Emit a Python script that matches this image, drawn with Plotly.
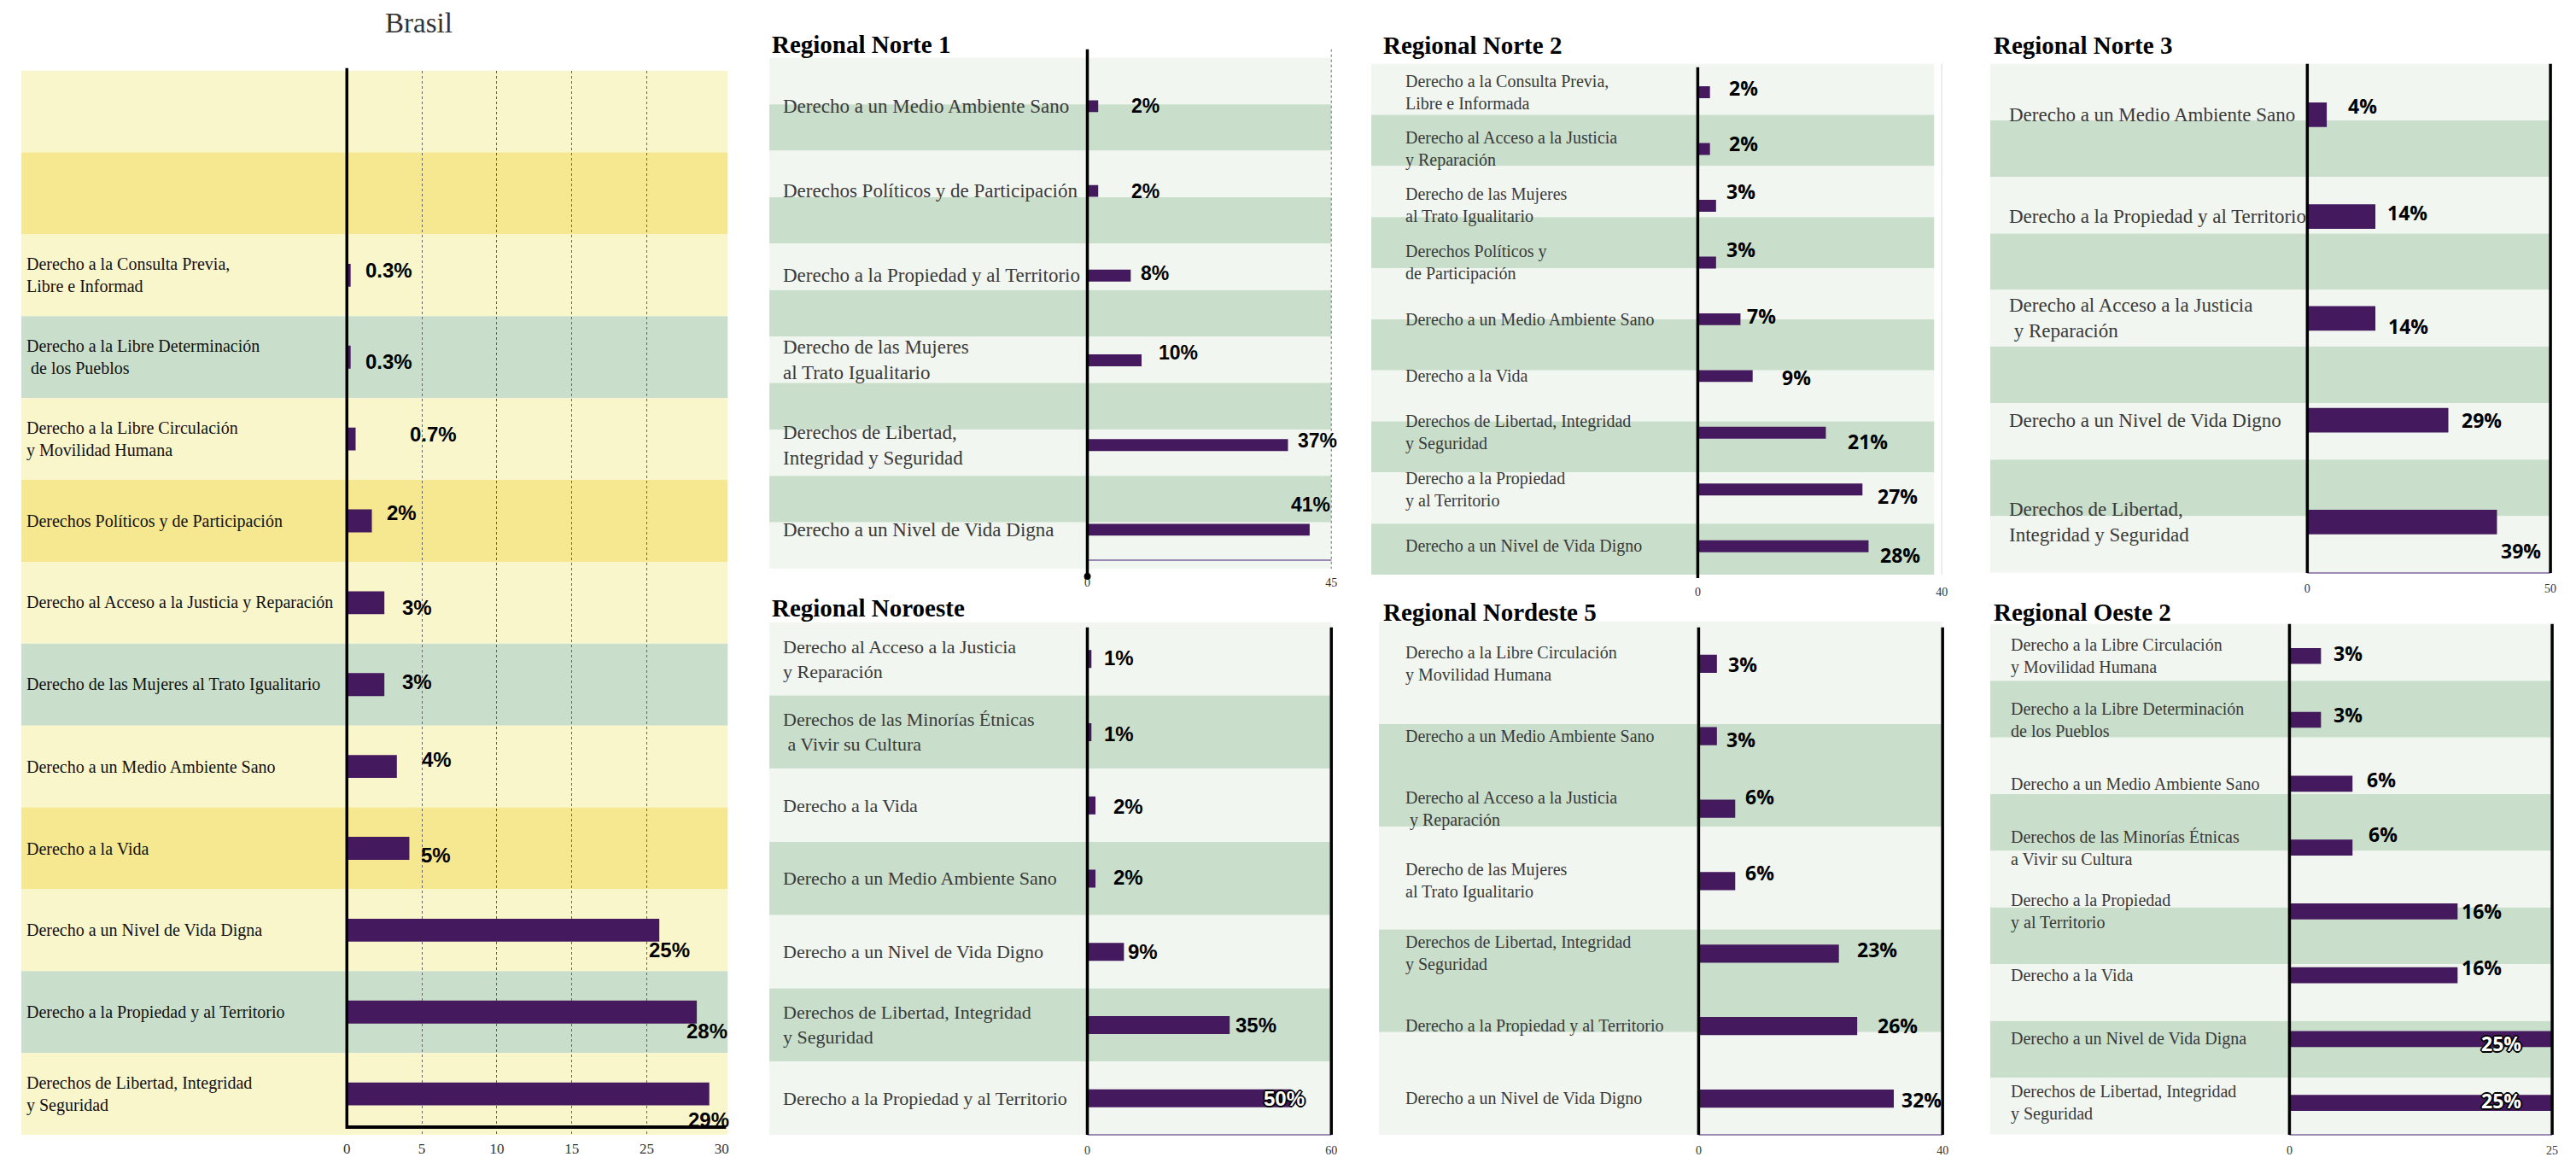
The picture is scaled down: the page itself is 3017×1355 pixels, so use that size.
import plotly.graph_objects as go

W, H = 3017, 1355

# ------------------------------------------------------------------ DATA
brasil_cats = [
    "Derecho a la Consulta Previa,<br>Libre e Informad",
    "Derecho a la Libre Determinación<br> de los Pueblos",
    "Derecho a la Libre Circulación<br>y Movilidad Humana",
    "Derechos Políticos y de Participación",
    "Derecho al Acceso a la Justicia y Reparación",
    "Derecho de las Mujeres al Trato Igualitario",
    "Derecho a un Medio Ambiente Sano",
    "Derecho a la Vida",
    "Derecho a un Nivel de Vida Digna",
    "Derecho a la Propiedad y al Territorio",
    "Derechos de Libertad, Integridad<br>y Seguridad",
]
brasil_vals = [0.3, 0.3, 0.7, 2, 3, 3, 4, 5, 25, 28, 29]
brasil_ticktext = ["0", "5", "10", "15", "25", "30"]

norte1_cats = [
    "Derecho a un Medio Ambiente Sano",
    "Derechos Políticos y de Participación",
    "Derecho a la Propiedad y al Territorio",
    "Derecho de las Mujeres<br>al Trato Igualitario",
    "Derechos de Libertad,<br>Integridad y Seguridad",
    "Derecho a un Nivel de Vida Digna",
]
norte1_vals = [2, 2, 8, 10, 37, 41]

noroeste_cats = [
    "Derecho al Acceso a la Justicia<br>y Reparación",
    "Derechos de las Minorías Étnicas<br> a Vivir su Cultura",
    "Derecho a la Vida",
    "Derecho a un Medio Ambiente Sano",
    "Derecho a un Nivel de Vida Digno",
    "Derechos de Libertad, Integridad<br>y Seguridad",
    "Derecho a la Propiedad y al Territorio",
]
noroeste_vals = [1, 1, 2, 2, 9, 35, 50]

norte2_cats = [
    "Derecho a la Consulta Previa,<br>Libre e Informada",
    "Derecho al Acceso a la Justicia<br>y Reparación",
    "Derecho de las Mujeres<br>al Trato Igualitario",
    "Derechos Políticos y<br>de Participación",
    "Derecho a un Medio Ambiente Sano",
    "Derecho a la Vida",
    "Derechos de Libertad, Integridad<br>y Seguridad",
    "Derecho a la Propiedad<br>y al Territorio",
    "Derecho a un Nivel de Vida Digno",
]
norte2_vals = [2, 2, 3, 3, 7, 9, 21, 27, 28]

norte3_cats = [
    "Derecho a un Medio Ambiente Sano",
    "Derecho a la Propiedad y al Territorio",
    "Derecho al Acceso a la Justicia<br> y Reparación",
    "Derecho a un Nivel de Vida Digno",
    "Derechos de Libertad,<br>Integridad y Seguridad",
]
norte3_vals = [4, 14, 14, 29, 39]

nordeste5_cats = [
    "Derecho a la Libre Circulación<br>y Movilidad Humana",
    "Derecho a un Medio Ambiente Sano",
    "Derecho al Acceso a la Justicia<br> y Reparación",
    "Derecho de las Mujeres<br>al Trato Igualitario",
    "Derechos de Libertad, Integridad<br>y Seguridad",
    "Derecho a la Propiedad y al Territorio",
    "Derecho a un Nivel de Vida Digno",
]
nordeste5_vals = [3, 3, 6, 6, 23, 26, 32]

oeste2_cats = [
    "Derecho a la Libre Circulación<br>y Movilidad Humana",
    "Derecho a la Libre Determinación<br>de los Pueblos",
    "Derecho a un Medio Ambiente Sano",
    "Derechos de las Minorías Étnicas<br>a Vivir su Cultura",
    "Derecho a la Propiedad<br>y al Territorio",
    "Derecho a la Vida",
    "Derecho a un Nivel de Vida Digna",
    "Derechos de Libertad, Integridad<br>y Seguridad",
]
oeste2_vals = [3, 3, 6, 6, 16, 16, 25, 25]

# ------------------------------------------------------------------ STYLE
PURPLE = "#45195e"
LY, DY, GR, LG = "#faf6cc", "#f6e890", "#c9dfcb", "#f1f6f0"
SERIF = "Liberation Serif, DejaVu Serif, serif"
ARIAL = "Liberation Sans, Arial, sans-serif"
ROUND = "Open Sans, Lato, sans-serif"
OUTLINE = ("2px 0 0 #000, -2px 0 0 #000, 0 2px 0 #000, 0 -2px 0 #000, "
           "1px 1px 0 #000, -1px -1px 0 #000, 1px -1px 0 #000, -1px 1px 0 #000")
AXW = 3.5  # axis line width

# label placement: (dx px, dy px (down +), xanchor, outlined)
R = lambda dx, dy=0: (dx, dy, "left", False)

panels = [
    dict(title="Brasil", cats=brasil_cats, vals=brasil_vals, xmax=30,
         ticks=dict(vals=[0, 6, 12, 18, 24, 30], text=brasil_ticktext, size=17),
         ax=(404, 845), ay=(83, 1333), pad=2, bw=0.28,
         band=dict(x=(21, 852), top=83, h=96.15, n=13, colors=[LY, DY, LY, GR]),
         lab=dict(x=25, size=20, color="#111"),
         ttl=dict(x=489, y=27, anchor="center", size=33, weight="normal", color="#333"),
         vfont=(ARIAL, 24), zero=(80, 1326), right=None, dot=None,
         bottom=dict(y=1324, x1=850, color="black", width=4), grid=True, tick_sd=4,
         place=[R(15, -6), R(15, 5), R(61, -6), R(15, -10), R(19, 6), R(19, -3),
                R(27, -8), R(12, 8), R(-14, 23), R(-14, 22), R(-27, 30)]),
    dict(title="Regional Norte 1", cats=norte1_cats, vals=norte1_vals, xmax=45,
         ticks=dict(vals=[0, 45], text=["0", "45"], size=14),
         ax=(1275, 1562), ay=(75, 672), pad=0, bw=0.14,
         band=dict(x=(901, 1562), top=68, h=54.55, n=11, colors=[LG, GR]),
         lab=dict(x=915, size=23, color="#3a3a3a"),
         ttl=dict(x=902, y=52, anchor="left", size=29, weight="bold", color="#000"),
         vfont=(ARIAL, 23), zero=(58, 677), right=("dot", 58, 668), dot=677,
         bottom=dict(y=658, x1=1562, color="#7d64a0", width=1.5), grid=False, tick_sd=2,
         place=[R(37), R(37), R(10, -3), R(18, -9), R(10, -5), (26, -29, "right", False)]),
    dict(title="Regional Noroeste", cats=noroeste_cats, vals=noroeste_vals, xmax=60,
         ticks=dict(vals=[0, 60], text=["0", "60"], size=14),
         ax=(1275, 1562), ay=(731, 1333), pad=0, bw=0.245,
         band=dict(x=(901, 1562), top=731, h=86, n=7, colors=[LG, GR]),
         lab=dict(x=915, size=22, color="#3a3a3a"),
         ttl=dict(x=902, y=714, anchor="left", size=29, weight="bold", color="#000"),
         vfont=(ARIAL, 24), zero=(737, 1333), right=("solid", 737, 1333), dot=None,
         bottom=dict(y=1333, x1=1562, color="#7d64a0", width=1.5), grid=False, tick_sd=8,
         place=[R(13, -1), R(13, 2), R(19, 1), R(19, -1), R(3), R(5),
                (18, 0, "right", True)]),
    dict(title="Regional Norte 2", cats=norte2_cats, vals=norte2_vals, xmax=40,
         ticks=dict(vals=[0, 40], text=["0", "40"], size=14),
         ax=(1993, 2280), ay=(75, 675), pad=0, bw=0.21,
         band=dict(x=(1609, 2271), top=75, h=60, n=10, colors=[LG, GR]),
         lab=dict(x=1647, size=20, color="#3a3a3a"),
         ttl=dict(x=1621, y=53, anchor="left", size=29, weight="bold", color="#000"),
         vfont=(ROUND, 23), zero=(79, 679), right=("faint", 75, 675), dot=None, bottom=None,
         grid=False, tick_sd=10,
         place=[R(20, -5), R(20, -6), R(10, -17), R(10, -15), R(6, -4), R(32, 2),
                R(24, 10), R(16, 8), R(12, 10)]),
    dict(title="Regional Norte 3", cats=norte3_cats, vals=norte3_vals, xmax=50,
         ticks=dict(vals=[0, 50], text=["0", "50"], size=14),
         ax=(2710, 2996), ay=(75, 673), pad=0, bw=0.24,
         band=dict(x=(2337, 2996), top=75, h=66.4, n=9, colors=[LG, GR]),
         lab=dict(x=2357, size=23, color="#3a3a3a"),
         ttl=dict(x=2339, y=53, anchor="left", size=29, weight="bold", color="#000"),
         vfont=(ROUND, 23), zero=(75, 673), right=("solid", 75, 673), dot=None,
         bottom=dict(y=673, x1=2996, color="#7d64a0", width=1.5), grid=False, tick_sd=8,
         place=[R(23, -10), R(12, -5), R(13, 9), R(14), R(3, 34)]),
    dict(title="Regional Nordeste 5", cats=nordeste5_cats, vals=nordeste5_vals, xmax=40,
         ticks=dict(vals=[0, 40], text=["0", "40"], size=14),
         ax=(1994, 2281), ay=(737, 1333), pad=0, bw=0.25,
         band=dict(x=(1618, 2280), top=730, h=120.6, n=5, colors=[LG, GR]),
         lab=dict(x=1647, size=20, color="#3a3a3a"),
         ttl=dict(x=1621, y=719, anchor="left", size=29, weight="bold", color="#000"),
         vfont=(ROUND, 23), zero=(737, 1333), right=("solid", 737, 1333), dot=None,
         bottom=dict(y=1333, x1=2281, color="#7d64a0", width=1.5), grid=False, tick_sd=8,
         place=[R(11, 1), R(9, 4), R(10, -14), R(10, -10), R(19, -5), R(22, -1), R(7, 1)]),
    dict(title="Regional Oeste 2", cats=oeste2_cats, vals=oeste2_vals, xmax=25,
         ticks=dict(vals=[0, 25], text=["0", "25"], size=14),
         ax=(2689, 2998), ay=(733, 1333), pad=0, bw=0.25,
         band=dict(x=(2337, 2998), top=733, h=66.6, n=9, colors=[LG, GR]),
         lab=dict(x=2359, size=20, color="#3a3a3a"),
         ttl=dict(x=2339, y=719, anchor="left", size=29, weight="bold", color="#000"),
         vfont=(ROUND, 23), zero=(733, 1333), right=("solid", 733, 1333), dot=None,
         bottom=dict(y=1333, x1=2998, color="#7d64a0", width=1.5), grid=False, tick_sd=8,
         place=[R(13, -3), R(13, -6), R(15, -5), R(17, -16), R(3), R(3, -9),
                (-34, 5, "right", True), (-34, -3, "right", True)]),
]


def fx(p):
    return p / W


def fy(p):
    return 1 - p / H


def pline(x0, y0, x1, y1, **line):
    return dict(type="line", xref="paper", yref="paper", x0=fx(x0), x1=fx(x1),
                y0=fy(y0), y1=fy(y1), line=line, layer="above")


fig = go.Figure()
shapes, annotations, layout_axes = [], [], {}

for n, p in enumerate(panels, start=1):
    xn = "x" if n == 1 else f"x{n}"
    yn = "y" if n == 1 else f"y{n}"
    xk = "xaxis" if n == 1 else f"xaxis{n}"
    yk = "yaxis" if n == 1 else f"yaxis{n}"
    ncat = len(p["cats"])

    fig.add_trace(go.Bar(
        x=p["vals"], y=p["cats"], orientation="h", width=p["bw"],
        marker=dict(color=PURPLE, line=dict(width=0)),
        xaxis=xn, yaxis=yn, hoverinfo="x+y", showlegend=False, cliponaxis=False,
    ))

    layout_axes[xk] = dict(
        domain=[fx(p["ax"][0]), fx(p["ax"][1])], range=[0, p["xmax"]], anchor=yn,
        tickvals=p["ticks"]["vals"], ticktext=p["ticks"]["text"], ticks="",
        tickfont=dict(family=SERIF, size=p["ticks"]["size"], color="#333"),
        ticklabelstandoff=p["tick_sd"],
        showgrid=p["grid"], gridcolor="#666", griddash="dot", gridwidth=1.2,
        zeroline=False, showline=False, fixedrange=True,
    )
    layout_axes[yk] = dict(
        domain=[fy(p["ay"][1]), fy(p["ay"][0])], anchor=xn, type="category",
        categoryorder="array", categoryarray=p["cats"],
        range=[ncat - 0.5, -0.5 - p["pad"]],
        showticklabels=False, showgrid=False, zeroline=False, showline=False,
        fixedrange=True,
    )

    # background bands
    b = p["band"]
    for k in range(b["n"]):
        y0 = b["top"] + k * b["h"]
        shapes.append(dict(type="rect", xref="paper", yref="paper", layer="below",
                           x0=fx(b["x"][0]), x1=fx(b["x"][1]),
                           y0=fy(y0 + b["h"]), y1=fy(y0),
                           fillcolor=b["colors"][k % len(b["colors"])], line=dict(width=0)))

    # axis frame lines (paper-referenced so they are not clipped by the plot area)
    x0px, x1px = p["ax"]
    if p["bottom"]:
        bt = p["bottom"]
        shapes.append(pline(x0px, bt["y"], bt["x1"], bt["y"], color=bt["color"], width=bt["width"]))
    z0, z1 = p["zero"]
    shapes.append(pline(x0px, z0, x0px, z1, color="black", width=AXW))
    if p["dot"]:
        shapes.append(dict(type="circle", xref="paper", yref="paper",
                           x0=fx(x0px - 4), x1=fx(x0px + 4), y0=fy(p["dot"] + 4), y1=fy(p["dot"] - 4),
                           fillcolor="black", line=dict(width=0), layer="above"))
    if p["right"]:
        style, r0, r1 = p["right"]
        if style == "dot":
            shapes.append(pline(x1px, r0, x1px, r1, color="#888", width=1.2, dash="dot"))
        elif style == "faint":
            shapes.append(pline(x1px, r0, x1px, r1, color="#e6e6e6", width=1.5))
        else:
            shapes.append(pline(x1px, r0, x1px, r1, color="black", width=AXW))

    # title
    t = p["ttl"]
    annotations.append(dict(
        xref="paper", yref="paper", x=fx(t["x"]), y=fy(t["y"]), text=p["title"],
        xanchor=t["anchor"], yanchor="middle", showarrow=False,
        font=dict(family=SERIF, size=t["size"], color=t["color"], weight=t["weight"])))

    # category labels
    lb = p["lab"]
    for i, c in enumerate(p["cats"]):
        annotations.append(dict(
            xref="paper", yref=yn, x=fx(lb["x"]), y=i, text=c, xanchor="left",
            yanchor="middle", align="left", showarrow=False,
            font=dict(family=SERIF, size=lb["size"], color=lb["color"])))

    # value labels
    fam, size = p["vfont"]
    for i, (v, pl) in enumerate(zip(p["vals"], p["place"])):
        dx, dy, anch, outlined = pl
        font = dict(family=fam, size=size, color="black", weight="bold")
        if outlined:
            font["color"] = "white"
            font["shadow"] = OUTLINE
        annotations.append(dict(
            xref=xn, yref=yn, x=v, y=i, text=f"{v:g}%", xanchor=anch, yanchor="middle",
            xshift=dx, yshift=-dy, showarrow=False, font=font))

fig.update_layout(
    width=W, height=H, margin=dict(l=0, r=0, t=0, b=0),
    paper_bgcolor="white", plot_bgcolor="rgba(0,0,0,0)",
    showlegend=False, shapes=shapes, annotations=annotations, **layout_axes,
)

fig.write_html("out.html", config={"displayModeBar": False},
               post_script="document.body.style.margin='0px';document.body.style.overflow='hidden';")
